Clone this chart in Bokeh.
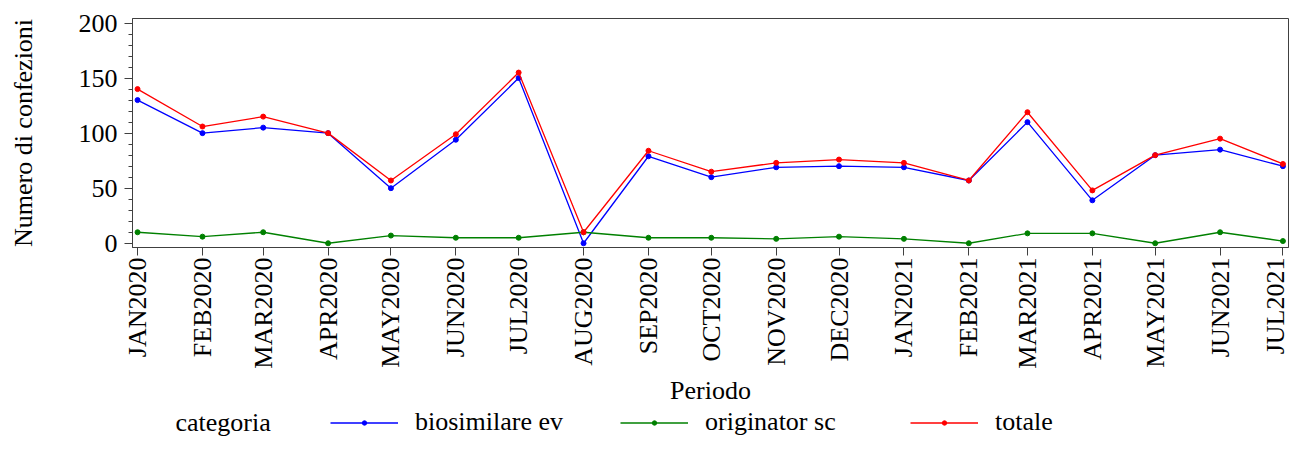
import math
import datetime as dt
from bokeh.plotting import figure
from bokeh.layouts import column
from bokeh.models import Range1d, FixedTicker, Legend, LegendItem, Label
from bokeh.embed import file_html
from bokeh.resources import INLINE

periods = ["JAN2020", "FEB2020", "MAR2020", "APR2020", "MAY2020", "JUN2020", "JUL2020",
           "AUG2020", "SEP2020", "OCT2020", "NOV2020", "DEC2020", "JAN2021", "FEB2021",
           "MAR2021", "APR2021", "MAY2021", "JUN2021", "JUL2021"]
biosimilare_ev = [130, 100, 105, 100, 50, 94, 150, 0, 79, 60, 69, 70, 69, 57, 110, 39, 80, 85, 70]
originator_sc = [10, 6, 10, 0, 7, 5, 5, 10, 5, 5, 4, 6, 4, 0, 9, 9, 0, 10, 2]
totale = [140, 106, 115, 100, 57, 99, 155, 10, 84, 65, 73, 76, 73, 57, 119, 48, 80, 95, 72]
y_ticks = [0, 50, 100, 150, 200]
series_names = ["biosimilare ev", "originator sc", "totale"]
series_colors = ["#0000FF", "#008000", "#FF0000"]
legend_title = "categoria"

FONT = "Liberation Serif"
AX = "#404040"

dates = [dt.datetime.strptime(s, "%b%Y") for s in periods]
epoch = dt.datetime(1970, 1, 1)
ms = [(d - epoch).total_seconds() * 1000.0 for d in dates]
all_series = [biosimilare_ev, originator_sc, totale]

W = 1289
BL, BR = 132, 1
LH = 30
p = figure(width=W, height=437 - LH, x_axis_type="datetime", output_backend="svg",
           toolbar_location=None,
           x_range=Range1d(dt.datetime(2019, 12, 29, 14), dt.datetime(2021, 7, 3, 16)),
           y_range=Range1d(-3.85, 204.1),
           min_border_left=BL, min_border_right=BR, min_border_top=18, min_border_bottom=0)
p.grid.visible = False
p.outline_line_color = AX
p.outline_line_width = 1

for vals, col in zip(all_series, series_colors):
    p.line(dates, vals, line_color=col, line_width=1.3)
    p.scatter(dates, vals, size=5, fill_color=col, line_color=col)

# x axis
xa = p.xaxis[0]
xa.ticker = FixedTicker(ticks=ms)
xa.major_label_overrides = {t: lab for t, lab in zip(ms, periods)}
xa.major_label_orientation = math.pi / 2
xa.major_tick_out = 8
xa.major_tick_in = 0
xa.axis_label = "Periodo"
xa.major_label_standoff = 2

# y axis
ya = p.yaxis[0]
ya.ticker = FixedTicker(ticks=y_ticks, minor_ticks=list(range(0, 201, 10)))
ya.major_tick_out = 8
ya.major_tick_in = 0
ya.minor_tick_out = 4
ya.minor_tick_in = 0
ya.axis_label = "Numero di confezioni"
ya.major_label_standoff = 7

for ax in (xa, ya):
    ax.axis_line_color = AX
    ax.major_tick_line_color = AX
    ax.major_label_text_font = FONT
    ax.major_label_text_font_size = "26px"
    ax.major_label_text_color = "black"
    ax.axis_label_text_font = FONT
    ax.axis_label_text_font_size = "26px"
    ax.axis_label_text_font_style = "normal"
    ax.axis_label_text_color = "black"
xa.minor_tick_line_color = None
ya.minor_tick_line_color = AX
xa.axis_label_standoff = 4
ya.axis_label_standoff = 38

# legend strip: frame aligned with the main plot frame, ranges in pixels
FW = W - BL - BR
lg = figure(width=W, height=LH, output_backend="svg", toolbar_location=None,
            x_axis_location=None, y_axis_location=None,
            x_range=Range1d(0, FW), y_range=Range1d(0, LH),
            min_border_left=BL, min_border_right=BR, min_border_top=0, min_border_bottom=0)
lg.grid.visible = False
lg.outline_line_color = None
items = []
for name, vals, col in zip(series_names, all_series, series_colors):
    # same data; lies far outside this strip's range, so only the legend glyph shows
    l = lg.line(ms, vals, line_color=col, line_width=1.3)
    s = lg.scatter(ms, vals, size=5, fill_color=col, line_color=col)
    items.append(LegendItem(label=name, renderers=[l, s]))
legend = Legend(items=items, orientation="horizontal", location=(330 - BL, 0),
                label_text_font="'Liberation Serif'", label_text_font_size="26px",
                label_text_color="black", label_text_font_style="normal",
                glyph_width=68, glyph_height=11, label_height=20, label_standoff=17,
                label_width=205, spacing=0, padding=0, margin=0,
                border_line_color=None, background_fill_alpha=0)
lg.add_layout(legend, "center")
lg.add_layout(Label(x=175 - BL, y=LH / 2, text=legend_title, text_font=FONT,
                    text_font_size="26px", text_baseline="middle", text_align="left",
                    text_color="black"))

layout = column(p, lg, spacing=0)
open("out.html", "w").write(file_html(layout, INLINE))
